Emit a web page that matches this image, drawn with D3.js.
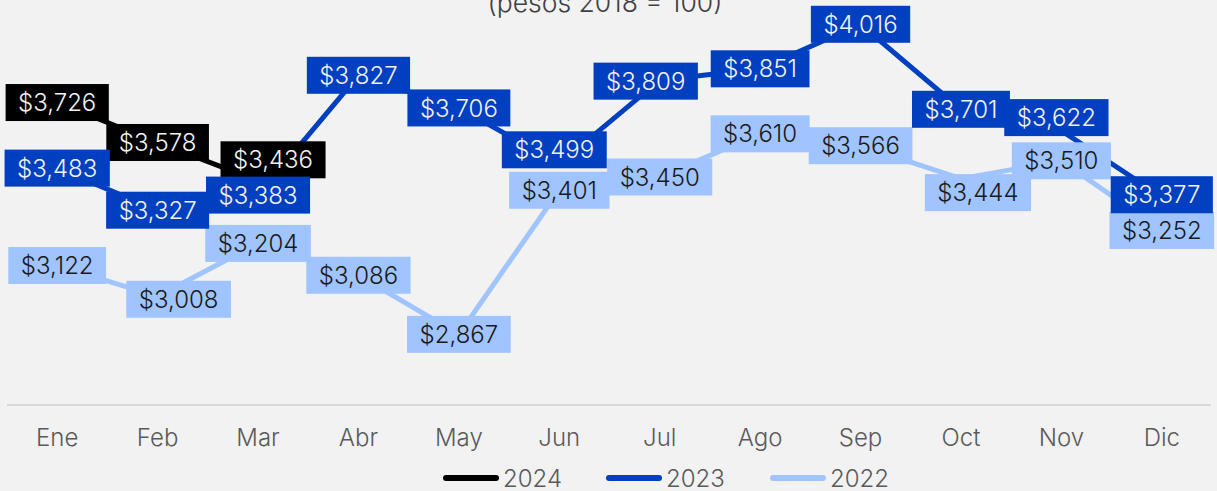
<!DOCTYPE html>
<html>
<head>
<meta charset="utf-8">
<script src="https://cdn.jsdelivr.net/npm/d3@7"></script>
<style>
  body { margin: 0; background: #f2f2f2; }
  svg { display: block; font-family: Inter, "Noto Sans", sans-serif; }
</style>
</head>
<body>
<svg id="chart"></svg>
<script>
let width = 1217;
let height = 491;

// data
let months = ["Ene", "Feb", "Mar", "Abr", "May", "Jun", "Jul", "Ago", "Sep", "Oct", "Nov", "Dic"];
let values2024 = [3726, 3578, 3436];
let values2023 = [3483, 3327, 3383, 3827, 3706, 3499, 3809, 3851, 4016, 3701, 3622, 3377];
let values2022 = [3122, 3008, 3204, 3086, 2867, 3401, 3450, 3610, 3566, 3444, 3510, 3252];
let seriesNames = ["2024", "2023", "2022"];

// label nudges so the boxes don't sit on top of each other
let nudges = {
    "2024-2": [15, -21],
    "2023-5": [-5, -14],
    "2023-6": [-14, 1],
    "2023-10": [-5, -13],
    "2023-11": [0, -2],
    "2022-1": [21, 3],
    "2022-9": [17, 14]
};

let colors = { "2024": "#000000", "2023": "#0040c0", "2022": "#a0c4ff" };
let textColors = { "2024": "#f2f2f2", "2023": "#f2f2f2", "2022": "#1a1a1a" };

let series = [
    { name: "2024", values: values2024 },
    { name: "2023", values: values2023 },
    { name: "2022", values: values2022 }
];

let svg = d3.select("#chart")
    .attr("width", width)
    .attr("height", height);

let x = d3.scaleBand().domain(months).range([7, 1212]);
let y = d3.scaleLinear().domain([2600, 4000]).range([406.4, 28.6]);
let cx = m => x(m) + x.bandwidth() / 2;

// subtitle (top of it is cut off in the original)
svg.append("text")
    .attr("x", 605)
    .attr("y", 12)
    .attr("text-anchor", "middle")
    .attr("font-size", 26.5)
    .attr("font-weight", 300)
    .attr("fill", "#404040")
    .text("(pesos 2018 = 100)");

// baseline
svg.append("line")
    .attr("x1", 7).attr("x2", 1211)
    .attr("y1", 405).attr("y2", 405)
    .attr("stroke", "#d9d9d9")
    .attr("stroke-width", 2);

// month labels
svg.append("g").selectAll("text")
    .data(months)
    .join("text")
    .attr("x", d => cx(d))
    .attr("y", 446)
    .attr("text-anchor", "middle")
    .attr("font-size", 24)
    .attr("font-weight", 300)
    .attr("fill", "#5a5a5a")
    .text(d => d);

// lines
let line = d3.line()
    .x((d, i) => cx(months[i]))
    .y(d => y(d));

svg.append("g").selectAll("path")
    .data(series.slice().reverse())
    .join("path")
    .attr("d", d => line(d.values))
    .attr("fill", "none")
    .attr("stroke", d => colors[d.name])
    .attr("stroke-width", 5)
    .attr("stroke-linejoin", "round");

// data labels
let fmt = v => "$" + d3.format(",")(v);
let labelOrder = ["2024", "2022", "2023"];
let labelGroup = svg.append("g");
labelOrder.forEach(name => {
    let s = series.find(d => d.name == name);
    s.values.forEach((v, i) => {
        let nd = nudges[name + "-" + i] || [0, 0];
        let px = cx(months[i]) + nd[0];
        let py = y(v) + nd[1];
        let g = labelGroup.append("g");
        let rect = g.append("rect").attr("fill", colors[name]);
        let t = g.append("text")
            .attr("x", px)
            .attr("y", py)
            .attr("dy", "0.36em")
            .attr("text-anchor", "middle")
            .attr("font-size", 24)
            .attr("font-weight", 300)
            .attr("fill", textColors[name])
            .text(fmt(v));
        let w = t.node().getComputedTextLength() + 25;
        rect.attr("x", px - w / 2)
            .attr("y", py - 18.5)
            .attr("width", w)
            .attr("height", 37);
    });
});

// legend
let legendX = [443, 606, 770];
let legend = svg.append("g").selectAll("g")
    .data(seriesNames)
    .join("g")
    .attr("transform", (d, i) => `translate(${legendX[i]},478)`);
legend.append("line")
    .attr("x1", 3).attr("x2", 53)
    .attr("stroke", d => colors[d])
    .attr("stroke-width", 6)
    .attr("stroke-linecap", "round");
legend.append("text")
    .attr("x", 60)
    .attr("y", 8.5)
    .attr("font-size", 24)
    .attr("font-weight", 300)
    .attr("fill", "#5a5a5a")
    .text(d => d);
</script>
</body>
</html>
